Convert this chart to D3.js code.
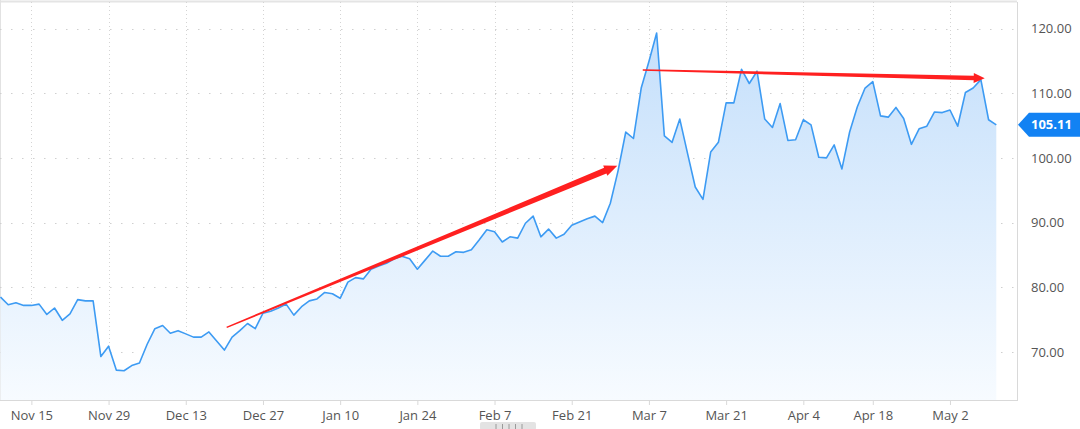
<!DOCTYPE html>
<html><head><meta charset="utf-8">
<script src="https://cdn.jsdelivr.net/npm/d3@7"></script>
<style>html,body{margin:0;padding:0;background:#fff;}svg{display:block;}</style>
</head><body>
<svg id="c" width="1080" height="429"></svg>
<script>
// trading-day index -> closing value
const values = [78.5,77.3,77.6,77.2,77.2,77.4,75.8,76.8,74.9,75.9,
78.1,77.9,77.9,69.3,70.9,67.2,67.1,67.9,68.3,71.2,
73.6,74.1,72.9,73.3,72.8,72.3,72.3,73.1,71.7,70.3,
72.3,73.3,74.4,73.6,76.0,76.3,76.8,77.4,75.7,77.0,
77.9,78.2,79.2,79.0,78.3,80.8,81.5,81.3,82.8,83.3,
83.7,84.4,84.8,84.4,82.8,84.2,85.6,84.8,84.8,85.5,
85.4,85.8,87.3,88.9,88.6,87.0,87.8,87.6,89.9,91.0,
87.8,89.0,87.6,88.2,89.6,90.1,90.6,91.0,90.0,93.0,
98.0,104.0,103.0,110.8,114.9,119.3,103.4,102.4,106.0,100.7,
95.5,93.6,100.9,102.4,108.5,108.5,113.7,111.5,113.4,106.0,
104.7,108.4,102.7,102.8,105.9,105.1,100.1,100.0,102.0,98.3,
104.0,107.9,110.8,111.8,106.5,106.3,107.8,106.1,102.1,104.5,
104.9,107.1,107.0,107.4,104.9,110.1,110.8,112.1,105.9,105.11];
const tickIndex = [4,14,24,34,44,54,64,74,84,94,104,113,123];
const tickLabels = ["Nov 15","Nov 29","Dec 13","Dec 27","Jan 10","Jan 24","Feb 7","Feb 21","Mar 7","Mar 21","Apr 4","Apr 18","May 2"];
const yTicks = [70,80,90,100,110,120];
const lastValue = 105.11;
// annotation arrows in data coordinates [index, value]
const arrows = [
  {from:[29.3,73.8], to:[79.9,98.8], w0:1.5, w1:6, head:13, headW:11},
  {from:[83.2,113.6], to:[127.5,112.3], w0:1.5, w1:4.5, head:11, headW:10}
];

const svg = d3.select("#c");
const plotR = 1017, plotB = 400, plotT = 2;
const x = d3.scaleLinear().domain([0, values.length-1]).range([0.5, 996.3]);
const y = d3.scaleLinear().domain([70,120]).range([352, 28.5]);

const defs = svg.append("defs");
const g = defs.append("linearGradient").attr("id","fillG")
  .attr("gradientUnits","userSpaceOnUse").attr("x1",0).attr("x2",0).attr("y1",28).attr("y2",plotB);
g.append("stop").attr("offset","0%").attr("stop-color","#c4dffb");
g.append("stop").attr("offset","100%").attr("stop-color","#f7fbff");

// borders
svg.append("line").attr("x1",0).attr("x2",plotR).attr("y1",1.5).attr("y2",1.5).attr("stroke","#e4e4e4").attr("stroke-width",2);
svg.append("line").attr("x1",0.5).attr("x2",0.5).attr("y1",0).attr("y2",plotB).attr("stroke","#e2e2e2");

// horizontal grid
svg.append("g").selectAll("line").data(yTicks).join("line")
  .attr("x1",0).attr("x2",plotR).attr("y1",d=>Math.round(y(d))+0.5).attr("y2",d=>Math.round(y(d))+0.5)
  .attr("stroke","#cfcfcf").attr("stroke-dasharray","1.5,9.5");
// vertical grid
svg.append("g").selectAll("line").data(tickIndex).join("line")
  .attr("x1",d=>Math.round(x(d))+0.5).attr("x2",d=>Math.round(x(d))+0.5).attr("y1",plotT).attr("y2",plotB)
  .attr("stroke","#d4d4d4").attr("stroke-dasharray","1,3");

// area + line
const area = d3.area().x((d,i)=>x(i)).y0(plotB).y1(d=>y(d));
const line = d3.line().x((d,i)=>x(i)).y(d=>y(d));
svg.append("path").datum(values).attr("d",area).attr("fill","url(#fillG)");
svg.append("path").datum(values).attr("d",line).attr("fill","none").attr("stroke","#3d9bf3").attr("stroke-width",1.6).attr("stroke-linejoin","round");

// right border and bottom axis
svg.append("line").attr("x1",plotR+0.5).attr("x2",plotR+0.5).attr("y1",plotT).attr("y2",plotB).attr("stroke","#d9d9d9");
const xAxis = d3.axisBottom(x).tickValues(tickIndex).tickFormat((d,i)=>tickLabels[i]).tickSize(5).tickPadding(6);
const gx = svg.append("g").attr("transform",`translate(0,${plotB})`).call(xAxis);
gx.select(".domain").attr("d",`M0,0.5H${plotR+1}`).attr("stroke","#d9d9d9");
gx.selectAll(".tick line").attr("stroke","#d9d9d9");
gx.selectAll("text").attr("font-family","'Open Sans', sans-serif").attr("font-size",13).attr("fill","#555");

// y axis labels
const yAxis = d3.axisRight(y).tickValues(yTicks).tickFormat(d3.format(".2f")).tickSize(0).tickPadding(14);
const gy = svg.append("g").attr("transform",`translate(${plotR},0)`).call(yAxis);
gy.select(".domain").remove();
gy.selectAll("text").attr("font-family","'Open Sans', sans-serif").attr("font-size",13).attr("fill","#555");

// current price tag
const ty = y(lastValue);
svg.append("path").attr("d",`M${plotR+1},${ty} L${plotR+12},${ty-12} H1080 V${ty+12} H${plotR+12} Z`).attr("fill","#1282f3");
svg.append("text").attr("x",1031).attr("y",ty).attr("dy","0.35em").attr("font-family","'Open Sans', sans-serif")
  .attr("font-size",13).attr("font-weight","bold").attr("fill","#fff").text(d3.format(".2f")(lastValue));

// arrows
arrows.forEach(a=>{
  const p0=[x(a.from[0]),y(a.from[1])], p1=[x(a.to[0]),y(a.to[1])];
  const dx=p1[0]-p0[0], dy=p1[1]-p0[1], L=Math.hypot(dx,dy);
  const u=[dx/L,dy/L], n=[-u[1],u[0]];
  const b=[p1[0]-u[0]*a.head, p1[1]-u[1]*a.head];
  const P=(p,k)=>[p[0]+n[0]*k,p[1]+n[1]*k];
  const pts=[P(p0,a.w0/2),P(b,a.w1/2),P(b,a.headW/2),p1,P(b,-a.headW/2),P(b,-a.w1/2),P(p0,-a.w0/2)];
  svg.append("path").attr("d","M"+pts.map(p=>p.join(",")).join("L")+"Z").attr("fill","#ff2020");
});

// scroll handle
const hg = svg.append("g");
hg.append("rect").attr("x",480).attr("y",422).attr("width",56).attr("height",8).attr("rx",2).attr("fill","#e3e3e3");
hg.selectAll("line").data([0,1,2,3,4]).join("line")
  .attr("x1",d=>496+d*6.5).attr("x2",d=>496+d*6.5).attr("y1",424).attr("y2",429).attr("stroke","#9a9a9a");
</script>
</body></html>
